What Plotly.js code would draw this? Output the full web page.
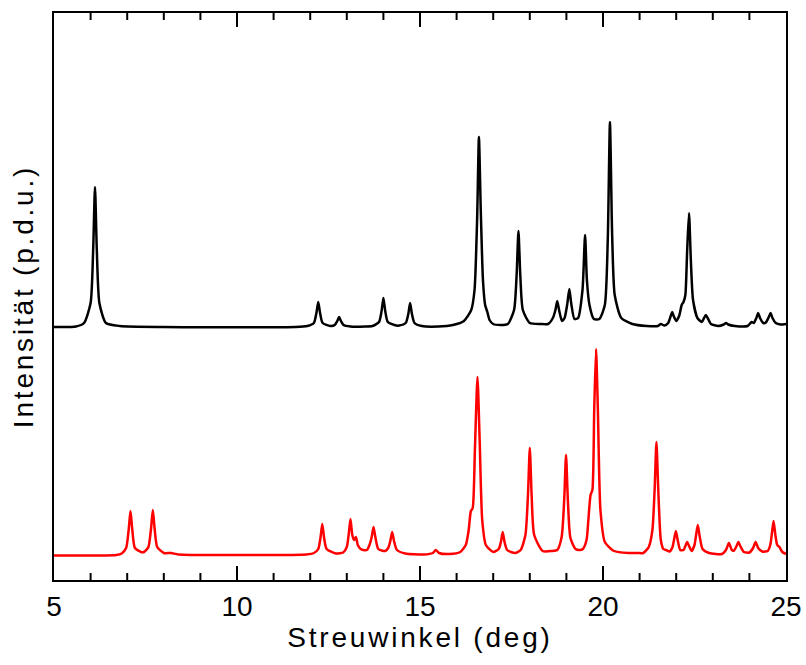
<!DOCTYPE html>
<html>
<head>
<meta charset="utf-8">
<script src="https://cdn.plot.ly/plotly-3.0.1.min.js"></script>
</head>
<body style="margin:0;padding:0;background:#fff;">
<div id="chart" style="width:806px;height:665px;"></div>
<script>
// Black pattern (upper, offset)
const blackX = [5.0, 5.6, 5.82, 6.0, 6.07, 6.12, 6.17, 6.24, 6.42, 6.8, 8.0, 11.6,
  11.92, 12.10, 12.17, 12.22, 12.27, 12.34, 12.55, 12.67, 12.74, 12.79, 12.84, 12.91, 13.1, 13.5,
  13.7, 13.88, 13.95, 14.0, 14.05, 14.12, 14.35, 14.43, 14.61, 14.68, 14.73, 14.78, 14.85, 15.05, 15.5,
  15.9, 16.2, 16.4, 16.49, 16.56, 16.61, 16.66, 16.72, 16.78, 16.84, 16.9, 17.0, 17.2,
  17.4, 17.57, 17.64, 17.69, 17.74, 17.81, 18.0, 18.3,
  18.5, 18.63, 18.7, 18.75, 18.8, 18.88, 18.95, 19.02, 19.08, 19.13, 19.22, 19.32, 19.44, 19.51, 19.56, 19.63, 19.75, 19.9,
  20.05, 20.13, 20.19, 20.25, 20.32, 20.5, 20.8, 21.2, 21.5, 21.58, 21.68,
  21.78, 21.85, 21.89, 21.93, 22.0, 22.08, 22.15, 22.2, 22.25, 22.3, 22.35, 22.4, 22.46, 22.58, 22.7,
  22.76, 22.81, 22.86, 22.95, 23.15, 23.3, 23.36, 23.42, 23.6, 23.95, 24.06, 24.12,
  24.19, 24.24, 24.29, 24.38, 24.45, 24.53, 24.58, 24.63, 24.72, 24.85, 25.0];
const blackY = [253, 253.5, 257, 277, 330, 393, 330, 277, 257, 254, 253, 253,
  254, 257, 267, 278, 267, 257, 254, 255, 259, 263, 259, 255, 253.5, 253.5,
  254, 258, 269, 282, 269, 258, 254.5, 254.5, 257, 266, 277, 266, 257, 254, 253.5,
  255, 259, 270, 290, 360, 443, 370, 300, 275, 268, 260, 256, 255,
  256, 270, 305, 349, 305, 270, 257, 256,
  256, 262, 270, 279, 270, 259, 262, 275, 291, 277, 261, 262, 290, 345, 300, 275, 261, 261,
  275, 340, 458, 345, 285, 262, 256, 254, 254, 256, 254.5,
  257, 264, 268, 264, 259, 264, 275, 278, 285, 330, 367, 320, 280, 262, 258,
  262, 265, 262, 256, 254, 255.5, 257, 255.5, 254, 254, 258, 257,
  262, 267, 262, 257, 257.5, 263, 267, 262, 257, 255.5, 256];

// Red pattern (lower)
const redX = [5.0, 6.7, 6.85, 6.97, 7.04, 7.09, 7.14, 7.21, 7.38,
  7.46, 7.58, 7.65, 7.70, 7.75, 7.82, 8.0, 8.2, 8.4, 10.0, 11.9,
  12.1, 12.22, 12.28, 12.33, 12.38, 12.45, 12.7,
  12.9, 13.0, 13.05, 13.10, 13.15, 13.2, 13.25, 13.3, 13.38, 13.45, 13.55,
  13.62, 13.68, 13.73, 13.78, 13.86, 14.05,
  14.13, 14.19, 14.24, 14.29, 14.37, 14.6, 15.1,
  15.35, 15.43, 15.52, 15.8,
  16.1, 16.25, 16.33, 16.39, 16.44, 16.5, 16.57, 16.63, 16.7, 16.8, 17.0,
  17.15, 17.21, 17.26, 17.31, 17.38, 17.6,
  17.75, 17.88, 17.95, 18.0, 18.05, 18.12, 18.35, 18.6,
  18.75, 18.87, 18.94, 18.99, 19.04, 19.11, 19.25, 19.37, 19.45,
  19.55, 19.6, 19.66, 19.71, 19.76, 19.81, 19.86, 19.93, 20.05, 20.3, 20.7, 20.94, 21.1,
  21.25, 21.35, 21.41, 21.46, 21.51, 21.58, 21.65, 21.72, 21.82,
  21.9, 21.94, 21.99, 22.04, 22.11, 22.2,
  22.25, 22.30, 22.35, 22.42,
  22.5, 22.54, 22.59, 22.64, 22.72, 22.9, 23.25,
  23.36, 23.44, 23.52, 23.58,
  23.65, 23.70, 23.75, 23.85, 24.0,
  24.1, 24.17, 24.24, 24.35, 24.5,
  24.57, 24.62, 24.66, 24.71, 24.76, 24.82, 24.9, 25.0];
const redY = [24.5, 25, 26.5, 32, 50, 69, 50, 32, 28,
  28, 33, 51, 70, 51, 33, 27, 27, 25.5, 25, 25.5,
  27, 31, 42, 56, 42, 31, 26.5,
  27.5, 33, 45, 61, 45, 40, 43, 35, 31, 30, 30,
  35, 43, 53, 43, 31, 29,
  32, 39, 48, 39, 30, 26.5, 25.5,
  27, 30, 27, 26,
  28, 35, 50, 69, 72, 130, 203, 140, 60, 35, 28,
  31, 38, 48, 38, 30, 27,
  30, 45, 85, 132, 85, 45, 29, 29,
  30, 43, 80, 125, 80, 42, 31, 30, 31,
  40, 60, 85, 90, 170, 231, 170, 70, 38, 29, 27, 27, 27,
  33, 50, 90, 138, 90, 40, 31, 30, 28.5,
  33, 40, 49, 40, 30, 30,
  34, 38, 34, 29,
  35, 44, 55, 44, 31, 27, 26,
  30, 37, 30, 29.5,
  34, 38, 34, 28, 27.5,
  32, 38, 32, 28.5, 29,
  35, 48, 59, 45, 35, 33, 28, 26];

const xTickVals = [5, 10, 15, 20, 25];
const xTickText = ['5', '10', '15', '20', '25'];
const xMajorInner = [10, 15, 20];
const xMinorVals = [6, 7, 8, 9, 11, 12, 13, 14, 16, 17, 18, 19, 21, 22, 23, 24];

const font = 'Liberation Sans, Arial, sans-serif';
const Y_TOP = 567; // y range top (1 unit = 1 px in this plot area)

// Inside tick marks on the bottom and top frame, drawn on the x scale
function tickTrace(vals, len) {
  const xs = [], ys = [];
  vals.forEach(v => {
    xs.push(v, v, null, v, v, null);
    ys.push(0, len, null, Y_TOP, Y_TOP - len, null);
  });
  return {x: xs, y: ys, type: 'scatter', mode: 'lines', line: {color: '#000000', width: 2},
    hoverinfo: 'skip', showlegend: false};
}

const traces = [
  {x: blackX, y: blackY, type: 'scatter', mode: 'lines', line: {color: '#000000', width: 2.5, shape: 'spline', smoothing: 0.6}, hoverinfo: 'skip'},
  {x: redX, y: redY, type: 'scatter', mode: 'lines', line: {color: '#ff0000', width: 2.5, shape: 'spline', smoothing: 0.6}, hoverinfo: 'skip'},
  tickTrace(xMajorInner, 14),
  tickTrace(xMinorVals, 7)
];

const layout = {
  width: 806, height: 665,
  margin: {l: 54, r: 20, t: 13, b: 85},
  showlegend: false,
  font: {family: font, color: '#000000', size: 28},
  xaxis: {
    range: [5, 25],
    tickmode: 'array', tickvals: xTickVals, ticktext: xTickText,
    ticks: 'inside', ticklen: 14, tickwidth: 2, tickcolor: '#000000',
    showline: true, linewidth: 2, linecolor: '#000000', mirror: 'ticks',
    showgrid: false, zeroline: false,
    tickfont: {family: font, size: 28, color: '#000000'},
    title: {text: 'Streuwinkel (deg)', font: {family: font, size: 28, color: '#000000'}, standoff: 4}
  },
  yaxis: {
    range: [0, Y_TOP],
    showticklabels: false, ticks: '',
    showline: true, linewidth: 2, linecolor: '#000000', mirror: true,
    showgrid: false, zeroline: false,
    title: {text: 'Intensität (p.d.u.)', font: {family: font, size: 28, color: '#000000'}, standoff: 10}
  }
};

Plotly.newPlot('chart', traces, layout, {displayModeBar: false}).then(function () {
  document.querySelectorAll('#chart .xtitle, #chart .ytitle').forEach(function (e) {
    e.style.letterSpacing = '2.8px';
  });
});
</script>
</body>
</html>
